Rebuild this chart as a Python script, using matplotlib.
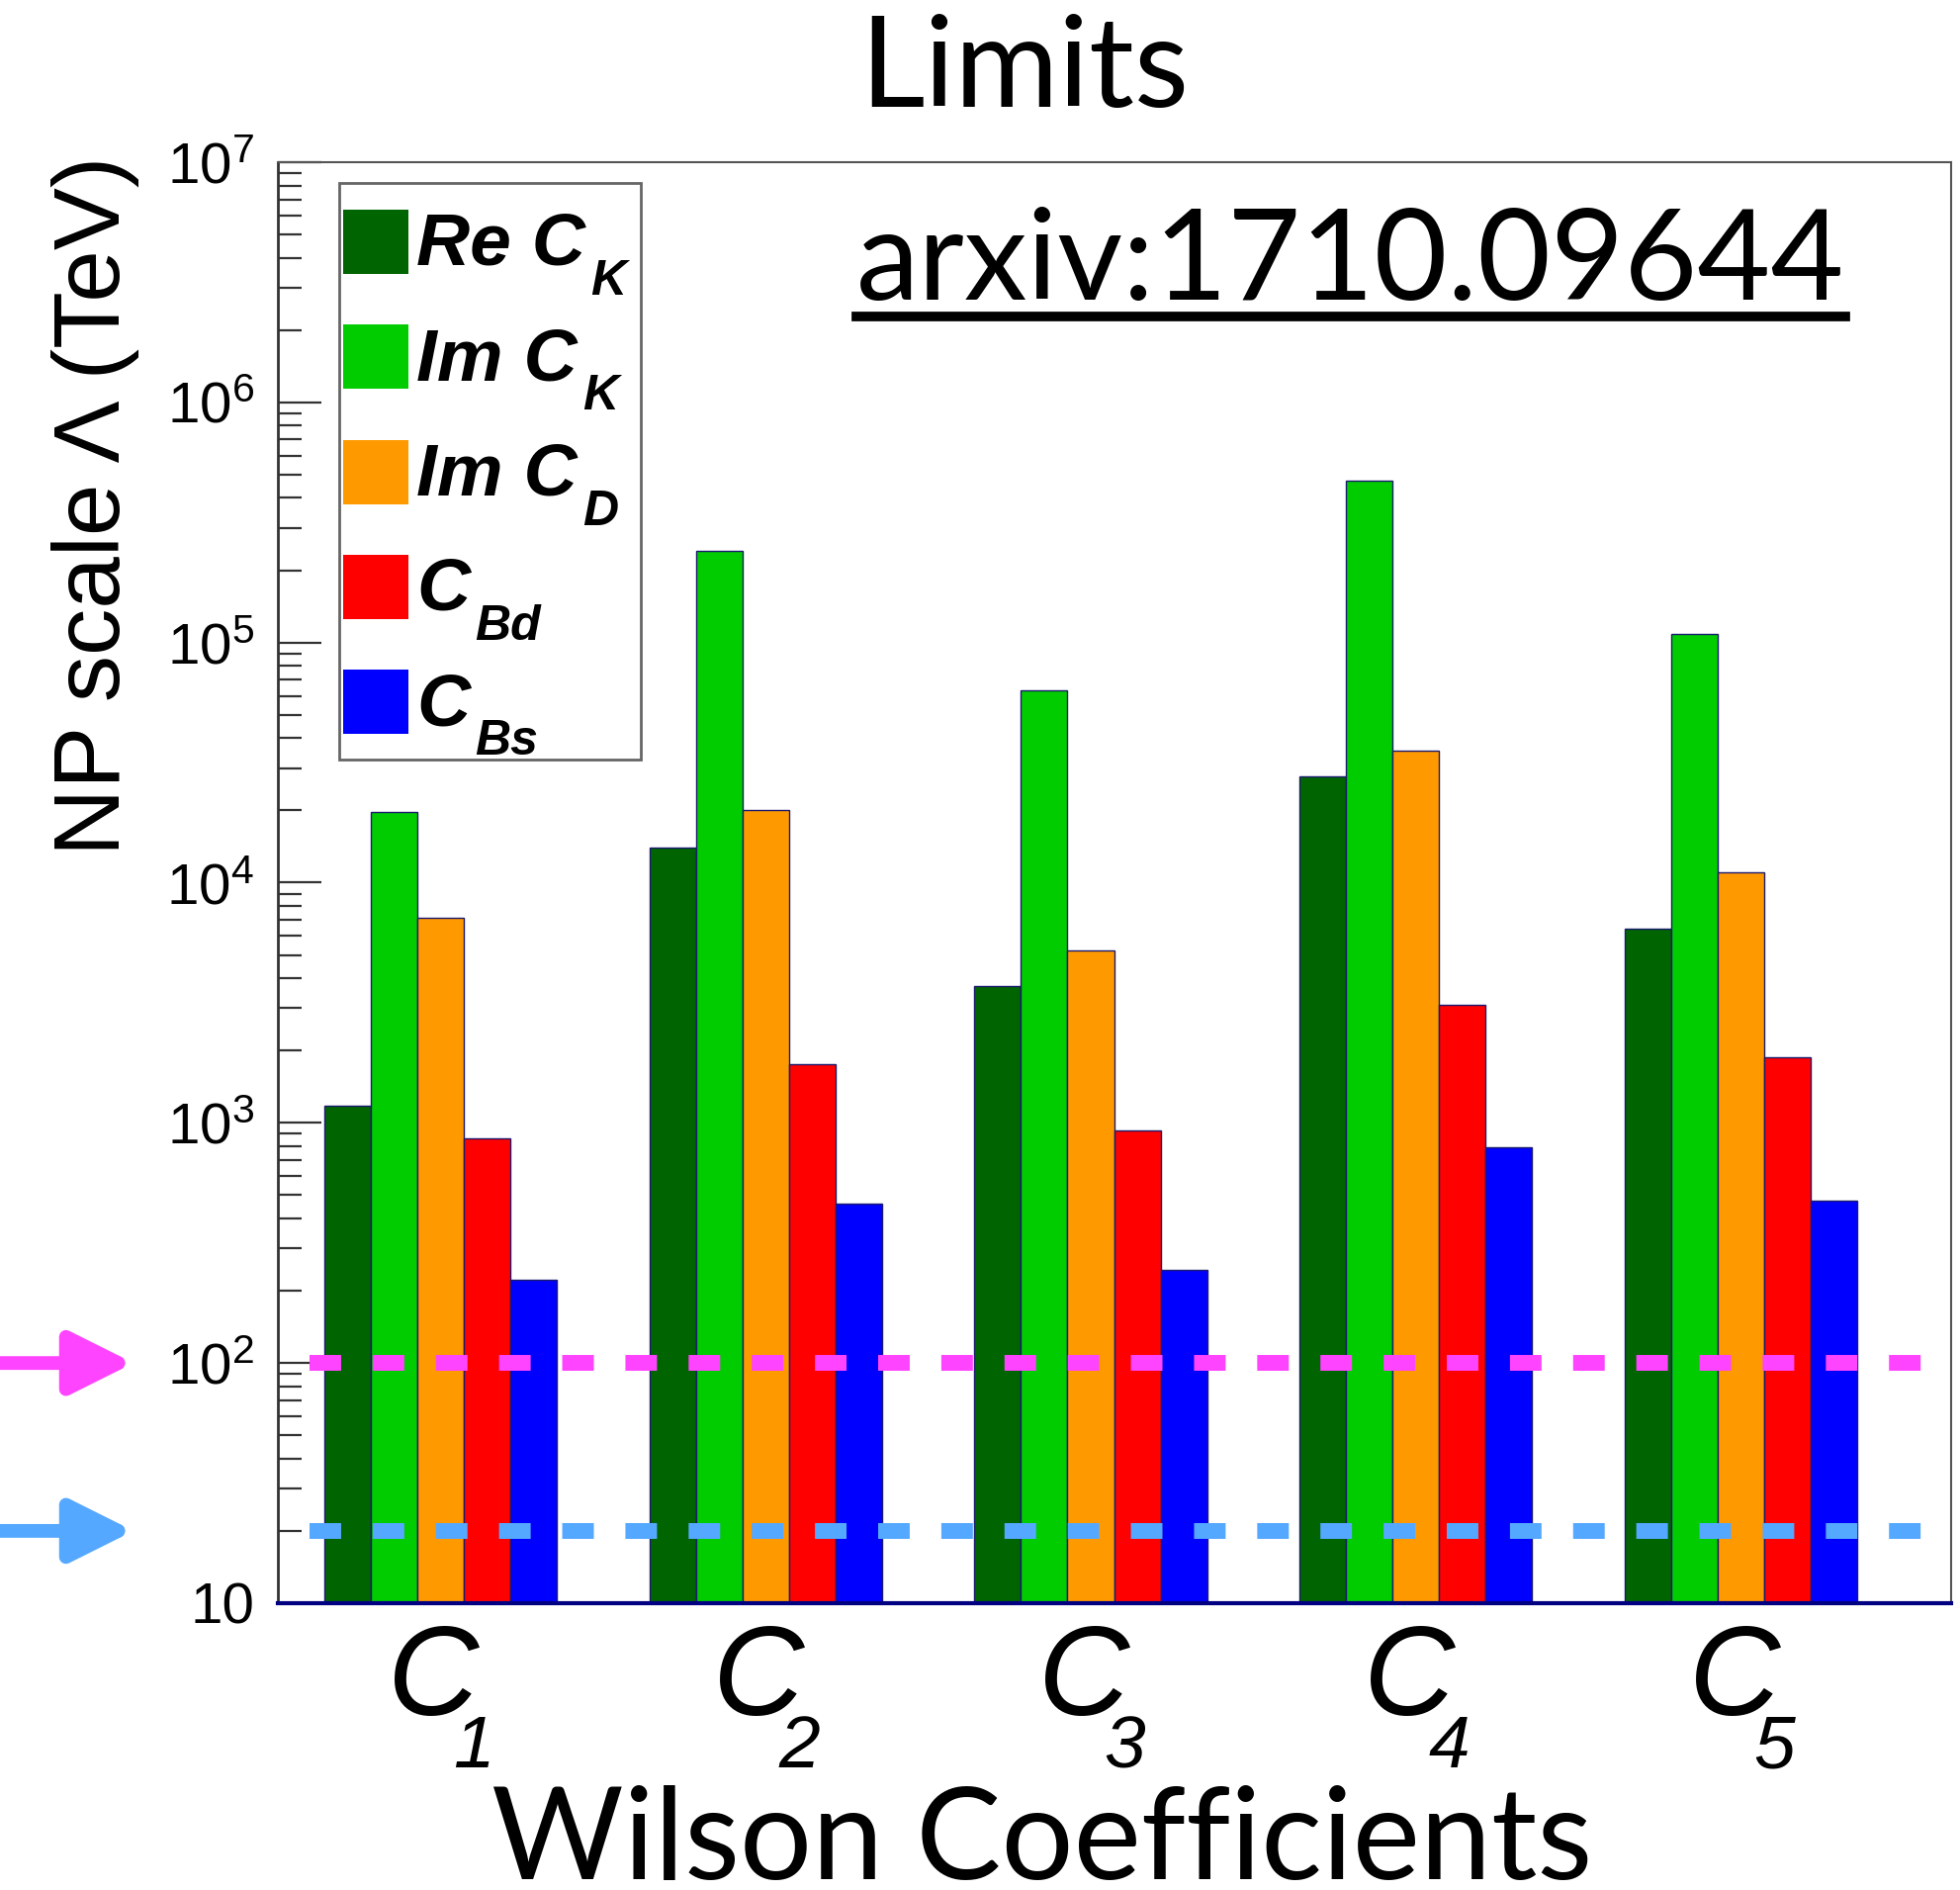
import numpy as np
import matplotlib
matplotlib.use("Agg")
from matplotlib import pyplot as plt
from matplotlib.patches import Rectangle
from matplotlib.transforms import blended_transform_factory
from matplotlib.ticker import LogLocator, FuncFormatter, NullFormatter

plt.rcParams['mathtext.fontset'] = 'custom'
plt.rcParams['mathtext.rm'] = 'Liberation Sans'
plt.rcParams['font.family'] = ['Liberation Sans', 'DejaVu Sans']

# Data (NP scale limits in TeV)
coefficients = ['1', '2', '3', '4', '5']
re_ck = [1170, 14000, 3700, 27700, 6400]
im_ck = [19600, 240000, 63500, 470000, 109000]
im_cd = [7100, 20000, 5200, 35500, 11000]
c_bd = [850, 1750, 920, 3100, 1860]
c_bs = [213, 450, 234, 780, 465]

series = [re_ck, im_ck, im_cd, c_bd, c_bs]
label_main = ['Re C', 'Im C', 'Im C', 'C', 'C']
label_sub = ['K', 'K', 'D', 'Bd', 'Bs']
colors = ['#006400', '#00cc00', '#ff9900', '#ff0000', '#0000ff']

sensitivity = [100, 20]
line_colors = ['#ff44ff', '#55a8ff']

W, H = 1983, 1911


def fpos(x, y):
    # pixel position (from top-left) -> figure fraction
    return x / W, 1 - y / H


fig = plt.figure(figsize=(W / 100, H / 100), dpi=100)
ax = fig.add_axes([281 / W, 1 - 1621 / H, (1973 - 281) / W, (1621 - 164) / H])

x = np.arange(len(coefficients))
w = 0.143
for j, (vals, col) in enumerate(zip(series, colors)):
    ax.bar(x + (j - 2) * w, vals, width=w, bottom=10, color=col,
           edgecolor='#1a1a70', linewidth=1.0)

ax.set_yscale('log')
ax.set_ylim(10, 1e7)
ax.set_xlim(-0.5, 4.646)

# dashed sensitivity lines + arrows on the left
for val, col in zip(sensitivity, line_colors):
    ax.axhline(val, xmin=0.019, xmax=1, color=col, lw=11.5,
               linestyle=(0, (2.0, 2.0)), zorder=5)
    ax.annotate('', xy=(135 / W, val), xycoords=('figure fraction', 'data'),
                xytext=(0, val), textcoords=('figure fraction', 'data'),
                arrowprops=dict(arrowstyle='-|>,head_length=0.38,head_width=0.19',
                                lw=10, color=col, mutation_scale=100,
                                shrinkA=0, shrinkB=0),
                annotation_clip=False)

# y axis
ax.yaxis.set_major_locator(LogLocator(base=10, numticks=10))
ax.yaxis.set_minor_locator(LogLocator(base=10, subs=np.arange(2, 10), numticks=10))
ax.yaxis.set_minor_formatter(NullFormatter())
ax.yaxis.set_major_formatter(FuncFormatter(
    lambda v, p: '10' if abs(v - 10) < 1e-6 else r'$\mathrm{10^{%d}}$' % round(np.log10(v))))
ax.tick_params(axis='y', which='major', direction='in', length=32, width=1.6,
               labelsize=42, pad=17, color='#333333')
ax.tick_params(axis='y', which='minor', direction='in', length=17, width=1.6,
               color='#333333')

# x axis: italic C with lowered subscript (ROOT style)
ax.set_xticks(x)
ax.set_xticklabels([''] * len(coefficients))
ax.tick_params(axis='x', length=0)
blend = blended_transform_factory(ax.transData, ax.transAxes)
for xi, c in zip(x, coefficients):
    ax.text(xi - 7 / 328.8, -(1734 - 1621) / 1457, 'C', transform=blend,
            ha='center', va='baseline', fontsize=92, fontstyle='italic')
    ax.text(xi + 34 / 328.8, -(1787 - 1621) / 1457, c, transform=blend,
            ha='center', va='baseline', fontsize=54, fontstyle='italic')

ax.spines['left'].set_color('#333333')
ax.spines['left'].set_linewidth(2)
ax.spines['top'].set_color('#555555')
ax.spines['top'].set_linewidth(1.5)
ax.spines['right'].set_color('#555555')
ax.spines['right'].set_linewidth(1.5)
ax.spines['bottom'].set_color('#000080')
ax.spines['bottom'].set_linewidth(3)

# legend box (ROOT style, subscripts dropped)
x0, y0 = fpos(343, 768)
x1, y1 = fpos(648, 185)
fig.add_artist(Rectangle((x0, y0), x1 - x0, y1 - y0, transform=fig.transFigure,
                         facecolor='white', edgecolor='#666666', lw=2, zorder=10))
renderer = fig.canvas.get_renderer()
pitch = 116.3
for i, (col, mtxt, stxt) in enumerate(zip(colors, label_main, label_sub)):
    top = 212 + pitch * i
    sx, sy = fpos(347, top + 65)
    fig.add_artist(Rectangle((sx, sy), 66 / W, 65 / H, transform=fig.transFigure,
                             facecolor=col, edgecolor='none', zorder=11))
    t = fig.text(*fpos(421, top + 56), mtxt, fontsize=54, fontweight='bold',
                 fontstyle='italic', ha='left', va='baseline', zorder=12)
    bb = t.get_window_extent(renderer)
    fig.text(bb.x1 / W + 5 / W, 1 - (top + 86) / H, stxt, fontsize=36,
             fontweight='bold', fontstyle='italic', ha='left', va='baseline',
             zorder=12)

# texts
fig.text(97 / W, 1 - 511 / H, 'NP scale \u039b (TeV)', rotation=90,
         ha='center', va='center', fontsize=68)
fig.text(1036 / W, 1 - 108 / H, 'Limits', ha='center', va='baseline',
         fontsize=92, family='Lato')
fig.text(1054 / W, 1 - 1900 / H, 'Wilson Coefficients', ha='center',
         va='baseline', fontsize=93, family='Lato')
arx = fig.text(866 / W, 1 - 303 / H, 'arxiv:1710.09644', ha='left',
               va='baseline', fontsize=92, family='Lato')

bb = arx.get_window_extent(renderer).transformed(fig.transFigure.inverted())
fig.add_artist(plt.Line2D([bb.x0, bb.x1], [1 - 320 / H, 1 - 320 / H],
                          transform=fig.transFigure, color='black', lw=7))

fig.savefig('out.png', dpi=100)
